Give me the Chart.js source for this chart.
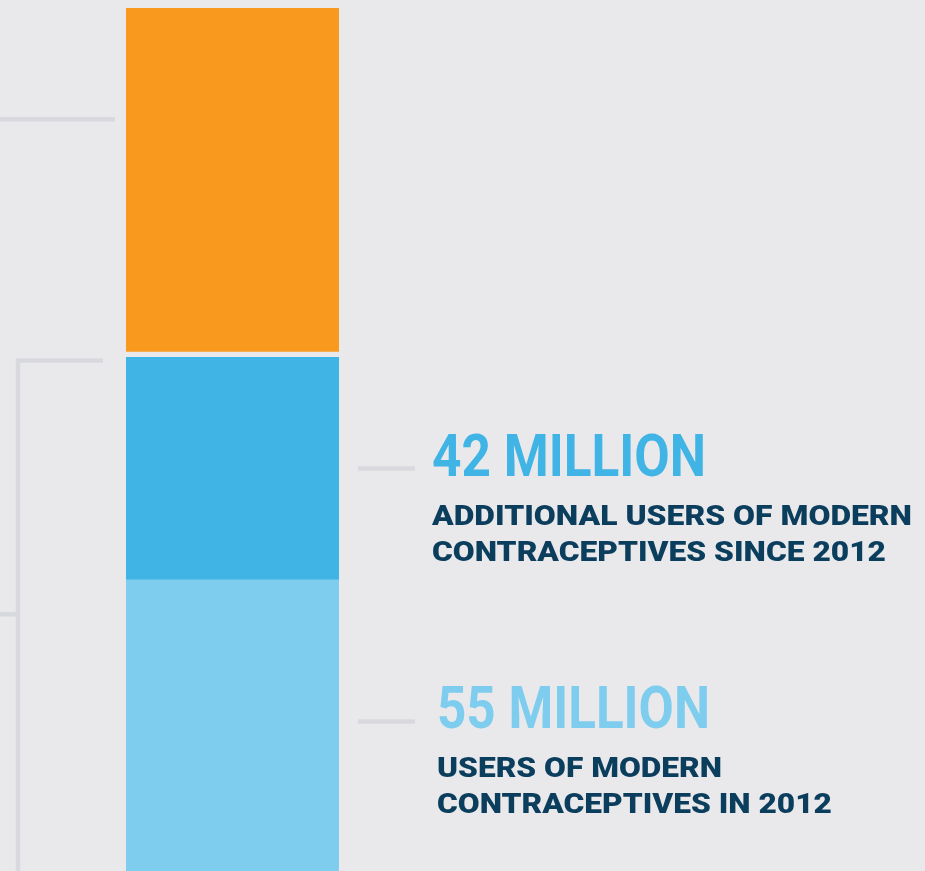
<!DOCTYPE html>
<html>
<head>
<meta charset="utf-8">
<script src="https://cdn.jsdelivr.net/npm/chart.js@4"></script>
<style>
    html, body { margin: 0; padding: 0; background: #e9e9eb; overflow: hidden; }
    #wrap { width: 925px; height: 871px; }
</style>
</head>
<body>
<div id="wrap"><canvas id="usersChart"></canvas></div>
<script>
// Valores em milhões de usuárias
const categories = ['2012–2017'];
const users2012 = [55];
const additional = [42];
const remaining = [66];
const axisMax = 163;

const headlines = ['42 MILLION', '55 MILLION'];
const subtitles = [
    ['ADDITIONAL USERS OF MODERN', 'CONTRACEPTIVES SINCE 2012'],
    ['USERS OF MODERN', 'CONTRACEPTIVES IN 2012']
];

const BG = '#e9e9eb';
const LINE = '#d8d9df';

function drawText(ctx, txt, x, y, font, color, width) {
    ctx.save();
    ctx.font = font;
    ctx.fillStyle = color;
    ctx.textBaseline = 'alphabetic';
    const w = ctx.measureText(txt).width;
    ctx.translate(x, y);
    ctx.scale(width / w, 1);
    ctx.fillText(txt, 0, 0);
    ctx.restore();
    return w;
}

const callouts = {
    id: 'callouts',
    afterDatasetsDraw(chart) {
        const { ctx, scales: { y } } = chart;
        ctx.save();
        ctx.strokeStyle = LINE;
        ctx.lineWidth = 4.5;

        // linha guia da esquerda (parte laranja)
        const yLead = y.getPixelForValue(142);
        ctx.beginPath();
        ctx.moveTo(0, yLead); ctx.lineTo(115, yLead); ctx.stroke();

        // colchete das usuárias atuais
        const yTop = y.getPixelForValue(users2012[0] + additional[0]) + 3;
        const yMid = y.getPixelForValue((users2012[0] + additional[0]) / 2);
        ctx.beginPath();
        ctx.moveTo(103, yTop); ctx.lineTo(18, yTop); ctx.lineTo(18, chart.height + 10);
        ctx.stroke();
        ctx.beginPath();
        ctx.moveTo(0, yMid); ctx.lineTo(18, yMid); ctx.stroke();

        // rótulos da direita
        const mids = [
            y.getPixelForValue(users2012[0] + additional[0] / 2),
            y.getPixelForValue(users2012[0] / 2) - 4
        ];
        const colors = ['#41b4e6', '#7fcdee'];
        const xs = [432, 437];
        const headW = [274, 273];
        const subW = [[480, 454], [285, 395]];
        mids.forEach((m, i) => {
            ctx.beginPath();
            ctx.moveTo(358, m); ctx.lineTo(415, m); ctx.stroke();
            drawText(ctx, headlines[i], xs[i], m + 7, 'bold 59px Roboto', colors[i], headW[i]);
            drawText(ctx, subtitles[i][0], xs[i], m + 56, '900 27px Roboto', '#0b3d5d', subW[i][0]);
            drawText(ctx, subtitles[i][1], xs[i], m + 92, '900 27px Roboto', '#0b3d5d', subW[i][1]);
        });
        ctx.restore();
    }
};

const chart = new Chart(document.getElementById('usersChart').getContext('2d'), {
    type: 'bar',
    data: {
        labels: categories,
        datasets: [
            { label: 'Users in 2012', data: users2012, backgroundColor: '#7fcdee', borderWidth: 0 },
            { label: 'Additional users', data: additional, backgroundColor: '#41b4e6', borderWidth: 0 },
            {
                label: 'Remaining',
                data: remaining,
                backgroundColor: '#f99a1f',
                borderColor: BG,
                borderWidth: { top: 0, left: 0, right: 0, bottom: 6 },
                borderSkipped: false
            }
        ]
    },
    options: {
        responsive: true,
        maintainAspectRatio: false,
        animation: false,
        layout: { padding: { left: 126, right: 586, top: 8, bottom: 0 } },
        datasets: { bar: { barPercentage: 1, categoryPercentage: 1 } },
        scales: {
            x: { stacked: true, display: false },
            y: { stacked: true, display: false, min: 0, max: axisMax }
        },
        plugins: { legend: { display: false }, tooltip: { enabled: false } }
    },
    plugins: [callouts]
});
</script>
</body>
</html>
